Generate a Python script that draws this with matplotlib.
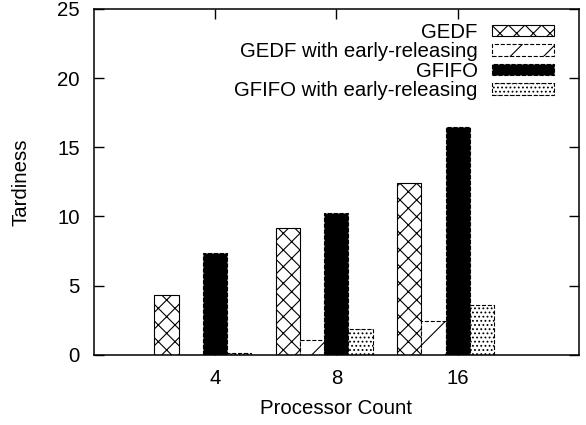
import numpy as np
import matplotlib
matplotlib.use("Agg")
import matplotlib.pyplot as plt

# データ
procs = ['4', '8', '16']
gedf = [4.33, 9.18, 12.42]
gedf_er = [0.0, 1.08, 2.46]
gfifo = [7.37, 10.26, 16.47]
gfifo_er = [0.17, 1.88, 3.6]
labels = ['GEDF', 'GEDF with early-releasing', 'GFIFO', 'GFIFO with early-releasing']

plt.rcParams['font.family'] = ['Liberation Sans', 'DejaVu Sans']
plt.rcParams['font.size'] = 14.7
plt.rcParams['hatch.linewidth'] = 0.8

fig = plt.figure(figsize=(5.86, 4.25), dpi=100)
ax = fig.add_axes([0.160, 0.165, 0.828, 0.814])

series = [gedf, gedf_er, gfifo, gfifo_er]
# 見た目の設定
styles = [
  dict(facecolor='white', hatch='xx', linestyle='-'),
  dict(facecolor='white', hatch='/', linestyle='--'),
  dict(facecolor='black', hatch=None, linestyle='--'),
  dict(facecolor='white', hatch='....', linestyle='--'),
]

base = np.arange(len(procs)) * 5
for j, (vals, st) in enumerate(zip(series, styles)):
  ax.bar(base + j + 0.5, vals, width=1.0, edgecolor='black', linewidth=0.8,
         label=labels[j], **st)

ax.set_xlim(-2.5, 17.5)
ax.set_ylim(0, 25)
ax.set_xticks(base + 2.5)
ax.set_xticklabels(procs)
ax.set_yticks(np.arange(0, 26, 5))
ax.tick_params(direction='in', top=True, right=True, length=7, width=1.0, pad=10)
for s in ax.spines.values():
  s.set_linewidth(1.1)

ax.set_xlabel('Processor Count', labelpad=8)
ax.set_ylabel('Tardiness', labelpad=19)

ax.legend(loc='upper right', bbox_to_anchor=(0.948, 0.96), frameon=False,
          markerfirst=False, borderpad=0, borderaxespad=0,
          handlelength=3.0, handleheight=0.5, handletextpad=0.73,
          labelspacing=0.02)

fig.savefig('out.png', dpi=100)
